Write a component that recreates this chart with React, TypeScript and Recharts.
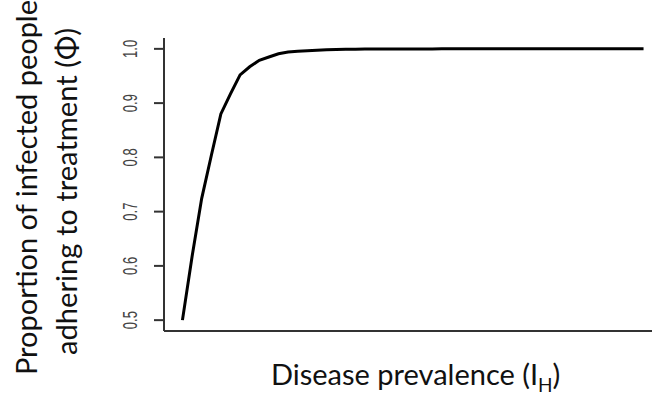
import React from 'react';
import { LineChart, Line, XAxis, YAxis } from 'recharts';

// Disease prevalence (I_H), evenly spaced sample points of the simulation
const prevalence = [
  0.0, 0.01, 0.02, 0.03, 0.04, 0.05, 0.06, 0.07, 0.08, 0.09,
  0.1, 0.11, 0.12, 0.13, 0.14, 0.15, 0.16, 0.17, 0.18, 0.19,
  0.2, 0.21, 0.22, 0.23, 0.24, 0.25, 0.26, 0.27, 0.28, 0.29,
  0.3, 0.31, 0.32, 0.33, 0.34, 0.35, 0.36, 0.37, 0.38, 0.39,
  0.4, 0.41, 0.42, 0.43, 0.44, 0.45, 0.46, 0.47, 0.48,
];

// Proportion of infected people adhering to treatment (Phi)
const adherence = [
  0.5, 0.617, 0.724, 0.803, 0.88, 0.917, 0.952, 0.967, 0.979, 0.985,
  0.991, 0.994, 0.9955, 0.9966, 0.9976, 0.9983, 0.9988, 0.9991, 0.9993, 0.9995,
  0.9996, 0.9997, 0.9998, 0.9998, 0.9999, 0.9999, 0.9999, 1.0, 1.0, 1.0,
  1.0, 1.0, 1.0, 1.0, 1.0, 1.0, 1.0, 1.0, 1.0, 1.0,
  1.0, 1.0, 1.0, 1.0, 1.0, 1.0, 1.0, 1.0, 1.0,
];

const yTicks = [0.5, 0.6, 0.7, 0.8, 0.9, 1.0];
const yTickLabels = ['0.5', '0.6', '0.7', '0.8', '0.9', '1.0'];

const xTitleMain = 'Disease prevalence (I';
const xTitleSub = 'H';
const xTitleEnd = ')';
const yTitleLine1 = 'Proportion of infected people';
const yTitleLine2 = 'adhering to treatment (\u03A6)';

const data = prevalence.map((p, i) => ({ p, phi: adherence[i] }));

const TITLE_FONT = "Lato, 'Open Sans', sans-serif";
const TICK_LABEL_BASELINE_X = 137;

function YTick(props: any) {
  const { y, payload } = props;
  const idx = yTicks.indexOf(payload.value);
  const label = idx >= 0 ? yTickLabels[idx] : String(payload.value);
  return (
    <g transform={`translate(${TICK_LABEL_BASELINE_X},${y}) rotate(-90)`}>
      <g transform="scale(1,1.5)">
        <text
          x={0}
          y={0}
          textAnchor="middle"
          fontFamily="'Liberation Sans', Arial, sans-serif"
          fontSize={13}
          fill="#444"
        >
          {label}
        </text>
      </g>
    </g>
  );
}

export default function App() {
  return (
    <div style={{ position: 'absolute', left: 0, top: 0, width: 652, height: 398, background: '#fff' }}>
      <LineChart
        width={652}
        height={398}
        data={data}
        margin={{ top: 38, right: 0, bottom: 0, left: 0 }}
      >
        <XAxis
          xAxisId="bottom"
          dataKey="p"
          type="number"
          domain={[-0.0192, 0.4888]}
          allowDataOverflow
          orientation="bottom"
          height={67}
          tick={false}
          tickLine={false}
          axisLine={{ stroke: '#333', strokeWidth: 2 }}
        />
        <XAxis
          xAxisId="top"
          dataKey="p"
          type="number"
          domain={[-0.0192, 0.4888]}
          allowDataOverflow
          orientation="top"
          height={0}
          tick={false}
          tickLine={false}
          axisLine={{ stroke: '#333', strokeWidth: 2 }}
        />
        <YAxis
          type="number"
          domain={[0.48, 1.02]}
          ticks={yTicks}
          width={164}
          tickSize={10}
          tickLine={{ stroke: '#333', strokeWidth: 2 }}
          axisLine={{ stroke: '#333', strokeWidth: 2 }}
          tick={<YTick />}
          interval={0}
        />
        <Line
          xAxisId="bottom"
          type="linear"
          dataKey="phi"
          stroke="#000"
          strokeWidth={3}
          dot={false}
          isAnimationActive={false}
        />
      </LineChart>
      <svg
        width={652}
        height={398}
        style={{ position: 'absolute', left: 0, top: 0, pointerEvents: 'none' }}
      >
        <text
          x={271}
          y={385}
          fontFamily={TITLE_FONT}
          fontSize={29}
          fill="#111"
        >
          {xTitleMain}
          <tspan fontSize={19} dy={7}>{xTitleSub}</tspan>
          <tspan fontSize={29} dy={-7}>{xTitleEnd}</tspan>
        </text>
        <text
          transform="translate(37,187.5) rotate(-90)"
          textAnchor="middle"
          fontFamily={TITLE_FONT}
          fontSize={29}
          fill="#111"
          textLength={375}
          lengthAdjust="spacingAndGlyphs"
        >
          {yTitleLine1}
        </text>
        <text
          transform="translate(77,191.5) rotate(-90)"
          textAnchor="middle"
          fontFamily={TITLE_FONT}
          fontSize={29}
          fill="#111"
          textLength={327}
          lengthAdjust="spacingAndGlyphs"
        >
          {yTitleLine2}
        </text>
      </svg>
    </div>
  );
}
